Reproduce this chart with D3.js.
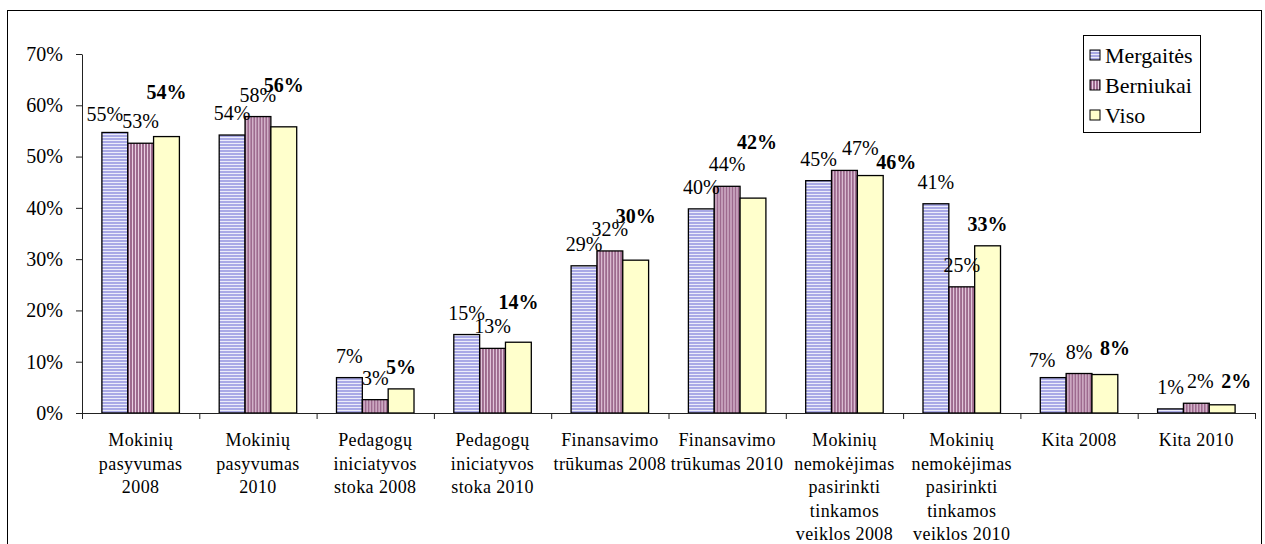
<!DOCTYPE html>
<html>
<head>
<meta charset="utf-8">
<script src="https://cdn.jsdelivr.net/npm/d3@7"></script>
<style>
  body { margin: 0; background: #fff; }
</style>
</head>
<body>
<svg id="chart" width="1265" height="544"></svg>
<script>
// categories (already broken into lines as in the original)
var categories = [
  ["Mokinių", "pasyvumas", "2008"],
  ["Mokinių", "pasyvumas", "2010"],
  ["Pedagogų", "iniciatyvos", "stoka 2008"],
  ["Pedagogų", "iniciatyvos", "stoka 2010"],
  ["Finansavimo", "trūkumas 2008"],
  ["Finansavimo", "trūkumas 2010"],
  ["Mokinių", "nemokėjimas", "pasirinkti", "tinkamos", "veiklos 2008"],
  ["Mokinių", "nemokėjimas", "pasirinkti", "tinkamos", "veiklos 2010"],
  ["Kita 2008"],
  ["Kita 2010"]
];
var seriesNames = ["Mergaitės", "Berniukai", "Viso"];

// values in %
var mergaites = [54.7, 54.2, 6.9, 15.3, 28.7, 39.8, 45.3, 40.8, 6.9, 0.8];
var berniukai = [52.6, 57.8, 2.6, 12.6, 31.6, 44.2, 47.3, 24.6, 7.7, 1.9];
var viso      = [53.9, 55.8, 4.7, 13.8, 29.8, 41.9, 46.3, 32.6, 7.5, 1.6];

var yTicks = [0, 10, 20, 30, 40, 50, 60, 70];

// hand-moved data labels in the original: "group-series": [dx, dy]
var labelNudge = {
  "0-0": [-10, 4], "0-2": [0, -23],
  "1-2": [0, -20],
  "3-2": [0, -18],
  "4-2": [0, -22],
  "5-2": [4, -34],
  "6-1": [16, 0], "6-2": [26, 8],
  "8-0": [-11, 4], "8-2": [10, -5],
  "9-1": [4, 0], "9-2": [14, -2]
};

var FONT = "'Liberation Serif', 'Times New Roman', serif";

var svg = d3.select("#chart");
var values = [mergaites, berniukai, viso];

var margin = {top: 54, left: 82, right: 1255, bottom: 413};

// outer frame
svg.append("rect")
    .attr("x", 7.5).attr("y", 10.5)
    .attr("width", 1254).attr("height", 600)
    .attr("fill", "none").attr("stroke", "#000").attr("stroke-width", 1);

// fill patterns
var defs = svg.append("defs");
var pm = defs.append("pattern").attr("id", "pat-m")
    .attr("patternUnits", "userSpaceOnUse").attr("width", 4).attr("height", 3);
pm.append("rect").attr("width", 4).attr("height", 3).attr("fill", "#ececfa");
pm.append("rect").attr("width", 4).attr("height", 2).attr("fill", "#a9a9e6");

var pb = defs.append("pattern").attr("id", "pat-b")
    .attr("patternUnits", "userSpaceOnUse").attr("width", 3).attr("height", 4);
pb.append("rect").attr("width", 3).attr("height", 4).attr("fill", "#e9cfe2");
pb.append("rect").attr("width", 2).attr("height", 4).attr("fill", "#9d6a8e");

var fills = ["url(#pat-m)", "url(#pat-b)", "#ffffcc"];

// scales
var y = d3.scaleLinear().domain([0, 70]).range([margin.bottom, margin.top]);
var x0 = d3.scaleBand().domain(d3.range(categories.length))
    .range([margin.left, margin.right]);
var x1 = d3.scaleBand().domain(seriesNames)
    .range([0, x0.bandwidth()]).paddingInner(0).paddingOuter(0.77);
var xEdges = d3.scaleLinear().domain([0, categories.length])
    .range([margin.left, margin.right]);

// y axis
var yAxis = svg.append("g")
    .attr("transform", "translate(" + margin.left + ",0)")
    .call(d3.axisLeft(y).tickValues(yTicks).tickFormat(function(d) { return d + "%"; })
      .tickSize(6).tickSizeOuter(0).tickPadding(13));
yAxis.attr("font-family", null).attr("font-size", null);
yAxis.selectAll("text")
    .style("font-family", FONT).style("font-size", "20px").attr("fill", "#000");
yAxis.selectAll("line, path").attr("stroke", "#222");

// bars
var groups = svg.selectAll(".grp")
    .data(categories)
  .enter().append("g")
    .attr("class", "grp")
    .attr("transform", function(d, i) { return "translate(" + x0(i) + ",0)"; });

groups.each(function(cat, gi) {
  var g = d3.select(this);
  seriesNames.forEach(function(s, si) {
    var v = values[si][gi];
    g.append("rect")
      .attr("x", x1(s))
      .attr("y", y(v))
      .attr("width", x1.bandwidth())
      .attr("height", y(0) - y(v))
      .attr("fill", fills[si])
      .attr("stroke", "#000")
      .attr("stroke-width", 1.3);
  });
});

// x axis (ticks between categories)
var xAxis = svg.append("g")
    .attr("transform", "translate(0," + margin.bottom + ")")
    .call(d3.axisBottom(xEdges).tickValues(d3.range(categories.length + 1))
      .tickFormat("").tickSize(6).tickSizeOuter(0));
xAxis.selectAll("line, path").attr("stroke", "#222");

// data labels
groups.each(function(cat, gi) {
  var g = d3.select(this);
  seriesNames.forEach(function(s, si) {
    var v = values[si][gi];
    var nd = labelNudge[gi + "-" + si] || [0, 0];
    g.append("text")
      .attr("x", x1(s) + x1.bandwidth() / 2 + nd[0])
      .attr("y", y(v) - 22 + nd[1])
      .attr("text-anchor", "middle")
      .attr("dominant-baseline", "central")
      .style("font-family", FONT)
      .style("font-size", "20px")
      .style("font-weight", si === 2 ? "bold" : "normal")
      .text(Math.round(v) + "%");
  });
});

// category labels
groups.append("text")
    .attr("text-anchor", "middle")
    .style("font-family", FONT)
    .style("font-size", "18px")
    .style("letter-spacing", "0.4px")
    .selectAll("tspan")
    .data(function(d) { return d; })
  .enter().append("tspan")
    .attr("x", x0.bandwidth() / 2)
    .attr("y", function(d, k) { return 440 + k * 23.5; })
    .attr("dominant-baseline", "central")
    .text(function(d) { return d; });

// legend
var legend = svg.append("g").attr("transform", "translate(1083,35)");
legend.append("rect")
    .attr("x", 0.5).attr("y", 0.5).attr("width", 117).attr("height", 97)
    .attr("fill", "#fff").attr("stroke", "#000");
seriesNames.forEach(function(s, i) {
  var row = legend.append("g").attr("transform", "translate(7," + (20 + i * 30) + ")");
  row.append("rect")
    .attr("x", 0).attr("y", -5).attr("width", 10).attr("height", 10)
    .attr("fill", fills[i]).attr("stroke", "#000");
  row.append("text")
    .attr("x", 15).attr("y", 0)
    .attr("dominant-baseline", "central")
    .style("font-family", FONT)
    .style("font-size", "22px")
    .text(s);
});
</script>
</body>
</html>
